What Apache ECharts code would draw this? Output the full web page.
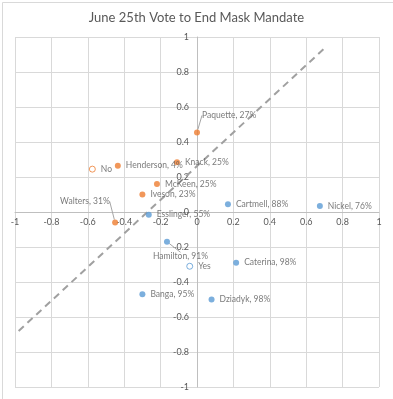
<!DOCTYPE html>
<html><head><meta charset="utf-8">
<script src="https://cdn.jsdelivr.net/npm/echarts@6/dist/echarts.min.js"></script>
<style>html,body{margin:0;padding:0;background:#fff}#c{width:393px;height:399px}</style>
</head><body><div id="c"></div>
<script>
// Votes against ending (orange)
const noNames = ['Paquette', 'Knack', 'Henderson', 'McKeen', 'Iveson', 'Walters'];
const noPct = ['27%', '25%', '4%', '25%', '23%', '31%'];
const noX = [0.0, -0.11, -0.435, -0.22, -0.30, -0.45];
const noY = [0.455, 0.285, 0.265, 0.16, 0.10, -0.06];
// Votes for ending (blue)
const yesNames = ['Esslinger', 'Cartmell', 'Nickel', 'Hamilton', 'Caterina', 'Banga', 'Dziadyk'];
const yesPct = ['55%', '88%', '76%', '91%', '98%', '95%', '98%'];
const yesX = [-0.265, 0.17, 0.675, -0.165, 0.215, -0.30, 0.08];
const yesY = [-0.015, 0.045, 0.035, -0.17, -0.29, -0.47, -0.50];
// In-plot legend markers
const legendNames = ['No', 'Yes'];
const legendX = [-0.575, -0.04];
const legendY = [0.245, -0.31];
// Dashed reference line
const refX = [-0.98, 0.70];
const refY = [-0.68, 0.935];
const axisTicks = [-1, -0.8, -0.6, -0.4, -0.2, 0, 0.2, 0.4, 0.6, 0.8, 1];

const ORANGE = '#ED7D31', BLUE = '#5B9BD5', TXT = '#595959';
const FONT = 'Lato';

// label adjustments (layout only)
const moved = {
  'Paquette': {dx: -3, dy: -17},
  'Walters': {dx: -63, dy: -21},
  'Hamilton': {dx: -22, dy: 15}
};

function pts(names, pct, xs, ys) {
  return names.map((n, i) => ({
    value: [xs[i], ys[i]],
    name: n,
    lbl: pct ? n + ', ' + pct[i] : n,
    labelLine: {show: !!moved[n]}
  }));
}

function scatter(name, data, color, hollow) {
  return {
    name, type: 'scatter', data,
    symbol: 'circle', symbolSize: 6,
    itemStyle: hollow ? {color: '#fff', borderColor: color, borderWidth: 1} : {color: color},
    label: {
      show: true, position: 'right', distance: 5,
      formatter: p => p.data.lbl,
      color: TXT, fontFamily: FONT, fontSize: 8.5
    },
    labelLine: {show: false, lineStyle: {color: '#a6a6a6', width: 1}},
    labelLayout: function (p) {
      const n = data[p.dataIndex].name;
      return moved[n] ? {dx: moved[n].dx, dy: moved[n].dy} : {};
    },
    z: 5
  };
}

const labelStyle = {color: TXT, fontFamily: FONT, fontSize: 9, formatter: v => String(Math.round(v * 10) / 10)};
const axisCommon = {
  type: 'value', min: -1, max: 1, interval: 0.2,
  axisLine: {onZero: false, lineStyle: {color: '#bfbfbf', width: 1}},
  axisTick: {show: false},
  splitLine: {show: true, lineStyle: {color: '#d9d9d9', width: 1}}
};

const chart = echarts.init(document.getElementById('c'), null, {renderer: 'canvas'});
chart.setOption({
  animation: false,
  backgroundColor: '#fff',
  title: {
    text: 'June 25th Vote to End Mask Mandate', left: 'center', top: 6,
    textStyle: {color: TXT, fontFamily: FONT, fontSize: 13, fontWeight: 'normal'}
  },
  graphic: [{
    type: 'rect', left: 0, top: 0, z: -10,
    shape: {x: 0.5, y: 0.5, width: 392, height: 398},
    style: {fill: 'none', stroke: '#d9d9d9', lineWidth: 1}
  }],
  grid: {left: 15, right: 14, top: 37, bottom: 12, containLabel: false, outerBoundsMode: 'none'},
  xAxis: Object.assign({}, axisCommon, {position: 'bottom', offset: -175,
    axisLabel: Object.assign({}, labelStyle, {margin: 6})}),
  yAxis: Object.assign({}, axisCommon, {position: 'left', offset: -182,
    axisLabel: Object.assign({}, labelStyle, {margin: 8})}),
  series: [
    {
      name: 'ref', type: 'line', data: refX.map((x, i) => [x, refY[i]]),
      symbol: 'none', silent: true, z: 3,
      lineStyle: {color: '#a0a0a0', width: 2, type: [7, 5]}
    },
    scatter('No votes', pts(noNames, noPct, noX, noY), ORANGE, false),
    scatter('Yes votes', pts(yesNames, yesPct, yesX, yesY), BLUE, false),
    scatter('No', pts([legendNames[0]], null, [legendX[0]], [legendY[0]]), ORANGE, true),
    scatter('Yes', pts([legendNames[1]], null, [legendX[1]], [legendY[1]]), BLUE, true)
  ]
});
</script>
</body></html>
